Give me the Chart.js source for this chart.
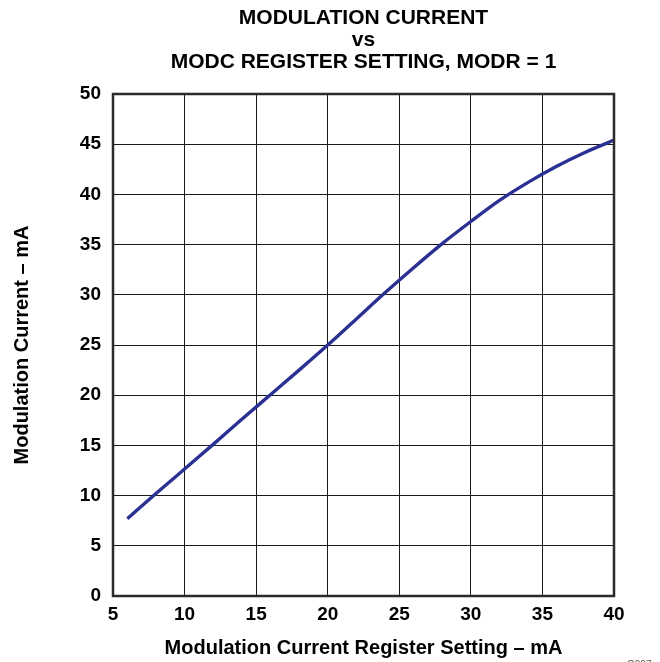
<!DOCTYPE html>
<html>
<head>
<meta charset="utf-8">
<script src="https://cdn.jsdelivr.net/npm/chart.js@4"></script>
<style>
  html, body { margin: 0; padding: 0; background: #fff; }
  #wrap { width: 660px; height: 662px; position: relative; }
</style>
</head>
<body>
<div id="wrap"><canvas id="chart"></canvas></div>
<script>
// ---------- Data ----------
const regSetting = [6, 8, 10, 12, 14, 16, 18, 20, 22, 24, 26, 28, 30, 32, 34, 36, 38, 40];
const modCurrent = [7.7, 10.2, 12.65, 15.1, 17.6, 20.05, 22.5, 25.0, 27.6, 30.2, 32.7, 35.1, 37.3, 39.4, 41.2, 42.8, 44.2, 45.4];
const xTicks = [5, 10, 15, 20, 25, 30, 35, 40];
const yTicks = [0, 5, 10, 15, 20, 25, 30, 35, 40, 45, 50];
const titleLines = ['MODULATION CURRENT', 'vs', 'MODC REGISTER SETTING, MODR = 1'];

const FONT = "'Liberation Sans', Arial, Helvetica, sans-serif";

// title centred over the plot area, plus the heavy frame round it
const framePlugin = {
  id: 'frame',
  afterDraw(chart) {
    const { ctx, chartArea: a } = chart;
    ctx.save();
    ctx.strokeStyle = '#2b2b2b';
    ctx.lineWidth = 2.5;
    ctx.strokeRect(a.left, a.top, a.right - a.left, a.bottom - a.top);

    ctx.fillStyle = '#000';
    ctx.font = 'bold 21px ' + FONT;
    ctx.textAlign = 'center';
    ctx.textBaseline = 'middle';
    const cx = (a.left + a.right) / 2;
    titleLines.forEach((t, i) => ctx.fillText(t, cx, 18 + i * 22));

    ctx.fillStyle = '#555';
    ctx.font = '10px ' + FONT;
    ctx.textAlign = 'left';
    ctx.textBaseline = 'alphabetic';
    ctx.fillText('G007', 627, 668);
    ctx.restore();
  },
};

new Chart(document.getElementById('chart'), {
  type: 'line',
  data: {
    datasets: [{
      data: regSetting.map((x, i) => ({ x, y: modCurrent[i] })),
      borderColor: '#2b3192',
      borderWidth: 3.4,
      pointRadius: 0,
      cubicInterpolationMode: 'monotone',
      fill: false,
    }],
  },
  options: {
    responsive: true, maintainAspectRatio: false, animation: false,
    layout: { padding: { top: 94, right: 46, bottom: 0, left: 0 } },
    plugins: { legend: { display: false }, tooltip: { enabled: false } },
    scales: {
      x: {
        type: 'linear', min: 5, max: 40,
        afterBuildTicks: (s) => { s.ticks = xTicks.map((v) => ({ value: v })); },
        afterFit: (s) => { s.height = 66; },
        grid: { color: '#1a1a1a', lineWidth: 1, drawTicks: false },
        border: { display: false },
        ticks: { color: '#000', padding: 7, font: { family: FONT, size: 19, weight: 'bold' } },
        title: {
          display: true, text: 'Modulation Current Register Setting – mA', color: '#000',
          font: { family: FONT, size: 20, weight: 'bold' }, padding: { top: 0, bottom: 2 },
        },
      },
      y: {
        min: 0, max: 50,
        afterBuildTicks: (s) => { s.ticks = yTicks.map((v) => ({ value: v })); },
        afterFit: (s) => { s.width = 113; },
        grid: { color: '#1a1a1a', lineWidth: 1, drawTicks: false },
        border: { display: false },
        ticks: { color: '#000', padding: 12, font: { family: FONT, size: 19, weight: 'bold' } },
        title: {
          display: true, text: 'Modulation Current – mA', color: '#000',
          font: { family: FONT, size: 20, weight: 'bold' }, padding: { top: 10, bottom: 0 },
        },
      },
    },
  },
  plugins: [framePlugin],
});
</script>
</body>
</html>
